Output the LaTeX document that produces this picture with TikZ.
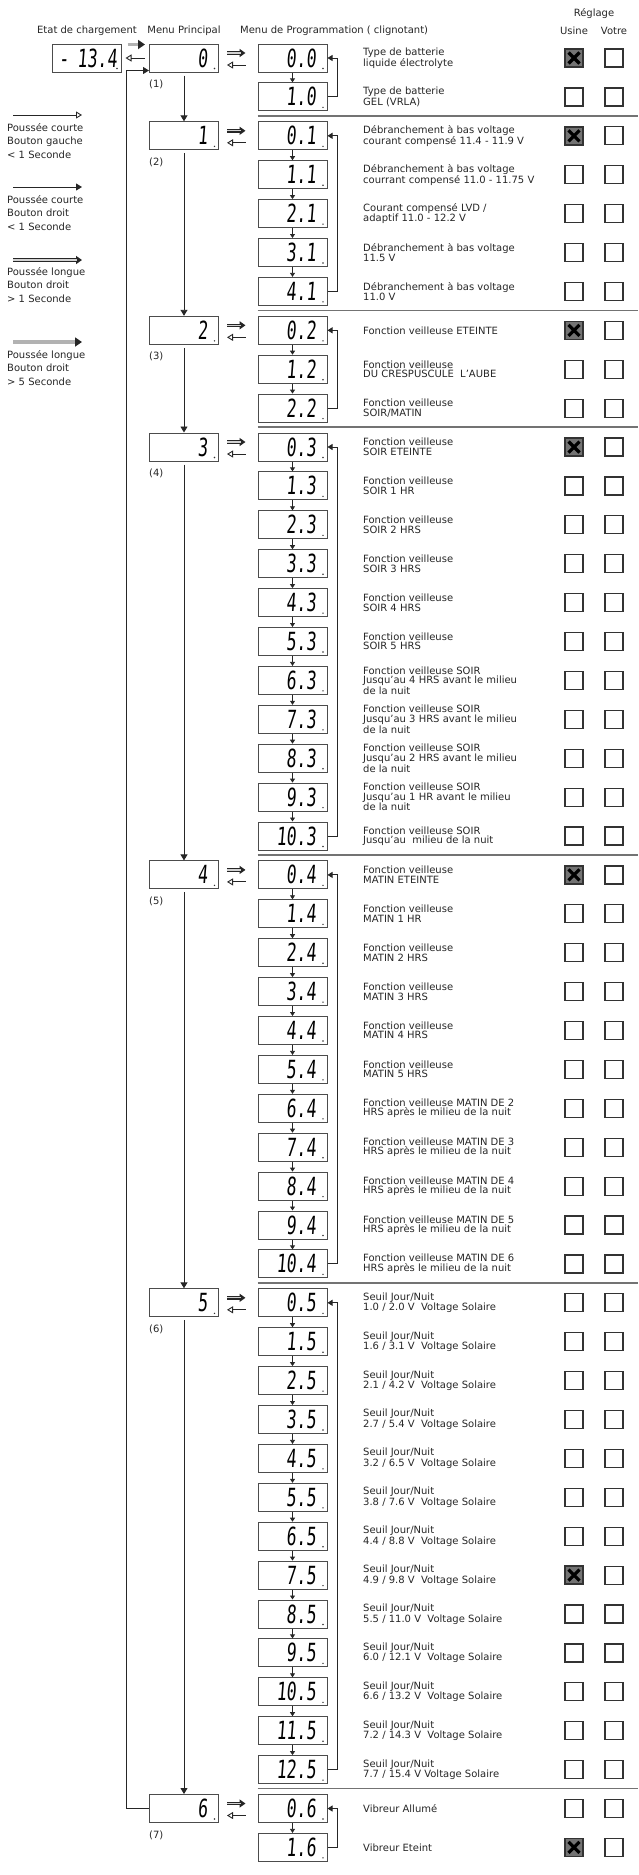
\documentclass[tikz,border=0pt]{standalone}
\usepackage{fontspec}
\setmainfont{DejaVu Sans}
\newfontfamily\lcdfont[FakeStretch=0.66,FakeSlant=0.08]{DejaVu Sans Mono}
\usetikzlibrary{arrows.meta}

\tikzset{
  lcd/.style={draw=black!70, line width=1pt, minimum width=69, minimum height=28,
    text width=47, inner xsep=11, inner ysep=0, text height=18pt, text depth=0pt,
    align=right, font=\lcdfont\fontsize{25}{25}\selectfont,
    path picture={\fill[black!80] ([xshift=-4pt,yshift=3.5pt]path picture bounding box.south east) circle (0.8pt);}},
  titre/.style={font=\fontsize{10}{12}\selectfont, text=black!85, inner sep=0},
  desc/.style={anchor=west, align=left, inner sep=0, font=\fontsize{10}{9.5}\selectfont, text=black!85},
  leg/.style={anchor=north west, align=left, inner sep=0, font=\fontsize{10}{13.5}\selectfont, text=black!85},
  case/.style={draw=black!80, line width=1.2pt, minimum size=18, inner sep=0},
  case0/.style={case},
  case1/.style={case, fill=black!55, line width=1.5pt,
    path picture={\draw[line width=3.2pt, black]
      ([shift={(3.5pt,3.5pt)}]path picture bounding box.south west) -- ([shift={(-3.5pt,-3.5pt)}]path picture bounding box.north east)
      ([shift={(3.5pt,-3.5pt)}]path picture bounding box.north west) -- ([shift={(-3.5pt,3.5pt)}]path picture bounding box.south east);}},
  gauche/.style={draw=black!85, line width=0.9pt, -{Triangle[open,length=6pt,width=7pt]}},
  droit/.style={draw=black!85, line width=0.9pt, -{Triangle[length=6pt,width=7pt]}},
  chaine/.style={draw=black!85, line width=0.8pt, -{Triangle[length=4pt,width=5pt]}},
  boucle/.style={draw=black!85, line width=0.9pt, -{Triangle[length=5pt,width=6pt]}},
  longue/.style={draw=black!85, line width=3.4pt, -{Triangle[length=6pt,width=8pt]},
    postaction={draw=gray!35, line width=1.2pt, -, shorten >=5pt}},
  cinq/.style={draw=gray!60, line width=3.2pt, -{Triangle[length=7pt,width=9pt,color=black!85]}},
  sep/.style={draw=black!55, line width=1.6pt}
}

\begin{document}
\begin{tikzpicture}[x=1pt,y=-1pt,>=Stealth]
\useasboundingbox (0,0) rectangle (638,1875);

% titres
\node[titre] (hetat) at (87,31) {Etat de chargement};
\node[titre] (hmenu) at (184,31) {Menu Principal};
\node[titre, anchor=west] (hprog) at (240,31) {Menu de Programmation ( clignotant)};
\node[titre] (hreg) at (594,14) {Réglage};
\node[titre] (husine) at (574,31) {Usine};
\node[titre] (hvotre) at (614,31) {Votre};

% legende
\coordinate (g1a) at (13,115); \coordinate (g1b) at (82,115);
\draw[gauche] (g1a) -- (g1b);
\node[leg] (g1) at (7,123) {Poussée courte\\Bouton gauche\\< 1 Seconde};
\coordinate (g2a) at (13,187); \coordinate (g2b) at (82,187);
\draw[droit] (g2a) -- (g2b);
\node[leg] (g2) at (7,195) {Poussée courte\\Bouton droit\\< 1 Seconde};
\coordinate (g3a) at (13,260); \coordinate (g3b) at (82,260);
\draw[longue] (g3a) -- (g3b);
\node[leg] (g3) at (7,267) {Poussée longue\\Bouton droit\\> 1 Seconde};
\coordinate (g4a) at (13,342); \coordinate (g4b) at (82,342);
\draw[cinq] (g4a) -- (g4b);
\node[leg] (g4) at (7,350) {Poussée longue\\Bouton droit\\> 5 Seconde};

% menu de programmation
\foreach \i/\val/\txt/\usine in {
  0/0.0/{Type de batterie\\liquide électrolyte}/1,
  1/1.0/{Type de batterie\\GEL (VRLA)}/0,
  2/0.1/{Débranchement à bas voltage\\courant compensé 11.4 - 11.9 V}/1,
  3/1.1/{Débranchement à bas voltage\\courrant compensé 11.0 - 11.75 V}/0,
  4/2.1/{Courant compensé LVD /\\adaptif 11.0 - 12.2 V}/0,
  5/3.1/{Débranchement à bas voltage\\11.5 V}/0,
  6/4.1/{Débranchement à bas voltage\\11.0 V}/0,
  7/0.2/{Fonction veilleuse ETEINTE}/1,
  8/1.2/{Fonction veilleuse\\DU CRESPUSCULE\ \ L'AUBE}/0,
  9/2.2/{Fonction veilleuse\\SOIR/MATIN}/0,
  10/0.3/{Fonction veilleuse\\SOIR ETEINTE}/1,
  11/1.3/{Fonction veilleuse\\SOIR 1 HR}/0,
  12/2.3/{Fonction veilleuse\\SOIR 2 HRS}/0,
  13/3.3/{Fonction veilleuse\\SOIR 3 HRS}/0,
  14/4.3/{Fonction veilleuse\\SOIR 4 HRS}/0,
  15/5.3/{Fonction veilleuse\\SOIR 5 HRS}/0,
  16/6.3/{Fonction veilleuse SOIR\\Jusqu'au 4 HRS avant le milieu\\de la nuit}/0,
  17/7.3/{Fonction veilleuse SOIR\\Jusqu'au 3 HRS avant le milieu\\de la nuit}/0,
  18/8.3/{Fonction veilleuse SOIR\\Jusqu'au 2 HRS avant le milieu\\de la nuit}/0,
  19/9.3/{Fonction veilleuse SOIR\\Jusqu'au 1 HR avant le milieu\\de la nuit}/0,
  20/10.3/{Fonction veilleuse SOIR\\Jusqu'au\ \ milieu de la nuit}/0,
  21/0.4/{Fonction veilleuse\\MATIN ETEINTE}/1,
  22/1.4/{Fonction veilleuse\\MATIN 1 HR}/0,
  23/2.4/{Fonction veilleuse\\MATIN 2 HRS}/0,
  24/3.4/{Fonction veilleuse\\MATIN 3 HRS}/0,
  25/4.4/{Fonction veilleuse\\MATIN 4 HRS}/0,
  26/5.4/{Fonction veilleuse\\MATIN 5 HRS}/0,
  27/6.4/{Fonction veilleuse MATIN DE 2\\HRS après le milieu de la nuit}/0,
  28/7.4/{Fonction veilleuse MATIN DE 3\\HRS après le milieu de la nuit}/0,
  29/8.4/{Fonction veilleuse MATIN DE 4\\HRS après le milieu de la nuit}/0,
  30/9.4/{Fonction veilleuse MATIN DE 5\\HRS après le milieu de la nuit}/0,
  31/10.4/{Fonction veilleuse MATIN DE 6\\HRS après le milieu de la nuit}/0,
  32/0.5/{Seuil Jour/Nuit\\1.0 / 2.0 V\ \ Voltage Solaire}/0,
  33/1.5/{Seuil Jour/Nuit\\1.6 / 3.1 V\ \ Voltage Solaire}/0,
  34/2.5/{Seuil Jour/Nuit\\2.1 / 4.2 V\ \ Voltage Solaire}/0,
  35/3.5/{Seuil Jour/Nuit\\2.7 / 5.4 V\ \ Voltage Solaire}/0,
  36/4.5/{Seuil Jour/Nuit\\3.2 / 6.5 V\ \ Voltage Solaire}/0,
  37/5.5/{Seuil Jour/Nuit\\3.8 / 7.6 V\ \ Voltage Solaire}/0,
  38/6.5/{Seuil Jour/Nuit\\4.4 / 8.8 V\ \ Voltage Solaire}/0,
  39/7.5/{Seuil Jour/Nuit\\4.9 / 9.8 V\ \ Voltage Solaire}/1,
  40/8.5/{Seuil Jour/Nuit\\5.5 / 11.0 V\ \ Voltage Solaire}/0,
  41/9.5/{Seuil Jour/Nuit\\6.0 / 12.1 V\ \ Voltage Solaire}/0,
  42/10.5/{Seuil Jour/Nuit\\6.6 / 13.2 V\ \ Voltage Solaire}/0,
  43/11.5/{Seuil Jour/Nuit\\7.2 / 14.3 V\ \ Voltage Solaire}/0,
  44/12.5/{Seuil Jour/Nuit\\7.7 / 15.4 V Voltage Solaire}/0,
  45/0.6/{Vibreur Allumé}/0,
  46/1.6/{Vibreur Eteint}/1}{
  \node[lcd] (p\i) at (292.5,{58+38.9*\i}) {\val};
  \node[desc] (t\i) at (363,{58+38.9*\i}) {\txt};
  \node[case\usine] (u\i) at (574,{58+38.9*\i}) {};
  \node[case0] (v\i) at (614,{58+38.9*\i}) {};
}

% menu principal
\foreach \k/\ini/\fin in {0/0/1,1/2/6,2/7/9,3/10/20,4/21/31,5/32/44,6/45/46}{
  \node[lcd] (m\k) at (184,{58+38.9*\ini}) {\k};
  \node[titre, anchor=west] (n\k) at ([yshift=-12pt]m\k.south west) {(\the\numexpr\k+1\relax)};
  \draw[longue] ([shift={(8pt,5pt)}]m\k.east) -- ([shift={(-12pt,5pt)}]p\ini.west);
  \draw[gauche] ([shift={(-12pt,-7pt)}]p\ini.west) -- ([shift={(8pt,-7pt)}]m\k.east);
  \pgfmathtruncatemacro\avant{\fin-1}
  \foreach \j [evaluate=\j as \jn using int(\j+1)] in {\ini,...,\avant}
    \draw[chaine] (p\j) -- (p\jn);
  \draw[boucle] (p\fin.east) -- ++(10,0) |- (p\ini.east);
  \ifnum\k>0 \draw[sep] ([yshift=5.5pt]p\ini.north west) -- ++(380,0); \fi
}
\foreach \k [evaluate=\k as \kn using int(\k+1)] in {0,...,5}
  \draw[droit, shorten <=3pt] (m\k) -- (m\kn);

% etat de chargement
\node[lcd, text width=61, inner xsep=4] (charge) at (86.5,58) {- 13.4};
\draw[cinq] ([shift={(6pt,-1pt)}]charge.north east) -- ([shift={(-4pt,-1pt)}]m0.north west);
\draw[gauche] ([xshift=-4pt]m0.west) -- ([xshift=4pt]charge.east);
\draw[droit] (m6.west) -- ++(-23,0) |- ([yshift=2pt]m0.south west);

\end{tikzpicture}
\end{document}
